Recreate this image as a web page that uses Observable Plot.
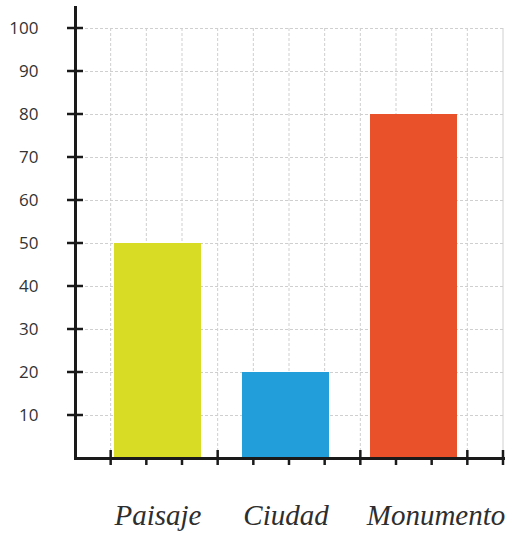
<!DOCTYPE html>
<html><head><meta charset="utf-8">
<script src="https://cdn.jsdelivr.net/npm/d3@7"></script>
<script src="https://cdn.jsdelivr.net/npm/@observablehq/plot@0.6"></script>
<style>body{margin:0;background:#fff}</style>
</head><body><div id="chart"></div>
<script>
const categories = ["Paisaje", "Ciudad", "Monumento"];
const values = [50, 20, 80];
const colors = ["#d9dc24", "#229fda", "#e8512a"];
const yTicks = [10, 20, 30, 40, 50, 60, 70, 80, 90, 100];
const xGridCount = 12;
const xTallTicks = [1, 4, 8, 11, 12];

const data = categories.map((c, i) => ({category: c, value: values[i]}));

// vertical dashed grid + x-axis tick marks (decorative frame subdivisions)
function xGrid(index, scales, vals, dim) {
  const g = d3.create("svg:g");
  const x0 = dim.marginLeft, x1 = dim.width - dim.marginRight;
  const yb = dim.height - dim.marginBottom;
  const yTop = scales.y(100);
  for (let k = 1; k <= xGridCount; k++) {
    const x = x0 + (x1 - x0 - 2) * k / xGridCount;
    g.append("line").attr("x1", x).attr("x2", x).attr("y1", yTop).attr("y2", yb)
      .attr("stroke", k === xGridCount ? "#d0d0d0" : "#cfcfcf")
      .attr("stroke-dasharray", k === xGridCount ? null : "3,2");
  }
  return g.node();
}
function xTicks(index, scales, vals, dim) {
  const g = d3.create("svg:g");
  const x0 = dim.marginLeft, x1 = dim.width - dim.marginRight;
  const yb = dim.height - dim.marginBottom;
  for (let k = 1; k <= xGridCount; k++) {
    const x = x0 + (x1 - x0 - 2) * k / xGridCount;
    const tall = xTallTicks.includes(k);
    g.append("line").attr("x1", x).attr("x2", x)
      .attr("y1", tall ? yb - 8 : yb).attr("y2", yb + 7)
      .attr("stroke", "#1a1a1a").attr("stroke-width", 2.5);
  }
  return g.node();
}
function yTickMarks(index, scales, vals, dim) {
  const g = d3.create("svg:g");
  const x = dim.marginLeft;
  for (const t of yTicks) {
    const y = scales.y(t);
    g.append("line").attr("x1", x - 8).attr("x2", x + 8).attr("y1", y).attr("y2", y)
      .attr("stroke", "#1a1a1a").attr("stroke-width", 2.5);
  }
  return g.node();
}

const labelFont = "'Liberation Serif', serif";
const chart = Plot.plot({
  width: 510,
  height: 545,
  marginLeft: 75,
  marginRight: 5,
  marginTop: 7,
  marginBottom: 87,
  style: {background: "#fff"},
  x: {type: "band", domain: categories, paddingInner: 0.32, paddingOuter: 0.333, align: 0.444, axis: null},
  y: {domain: [0, 100], range: [458, 28], axis: null, label: null},
  color: {domain: categories, range: colors},
  marks: [
    Plot.ruleY(yTicks, {stroke: "#cfcfcf", strokeDasharray: "3,2"}),
    xGrid,
    Plot.barY(data, {x: "category", y: "value", fill: "category"}),
    Plot.ruleY([0], {stroke: "#1a1a1a", strokeWidth: 3}),
    Plot.frame({anchor: "left", stroke: "#1a1a1a", strokeWidth: 3}),
    xTicks,
    yTickMarks,
    Plot.axisY(yTicks, {label: null, tickSize: 0, tickPadding: 37, fontSize: 17, fill: "#333", fontFamily: "'Open Sans', sans-serif", tickFormat: d => String(d)}),
    Plot.text(data.filter(d => d.category !== "Monumento"), {x: "category", frameAnchor: "bottom", dy: 66, text: "category", fontSize: 29, fontStyle: "italic", fill: "#2e2e2e", fontFamily: labelFont}),
    Plot.text(data.filter(d => d.category === "Monumento"), {x: "category", frameAnchor: "bottom", dy: 66, dx: 22, text: "category", fontSize: 29, fontStyle: "italic", fill: "#2e2e2e", fontFamily: labelFont})
  ]
});
document.getElementById("chart").append(chart);
</script>
</body></html>
